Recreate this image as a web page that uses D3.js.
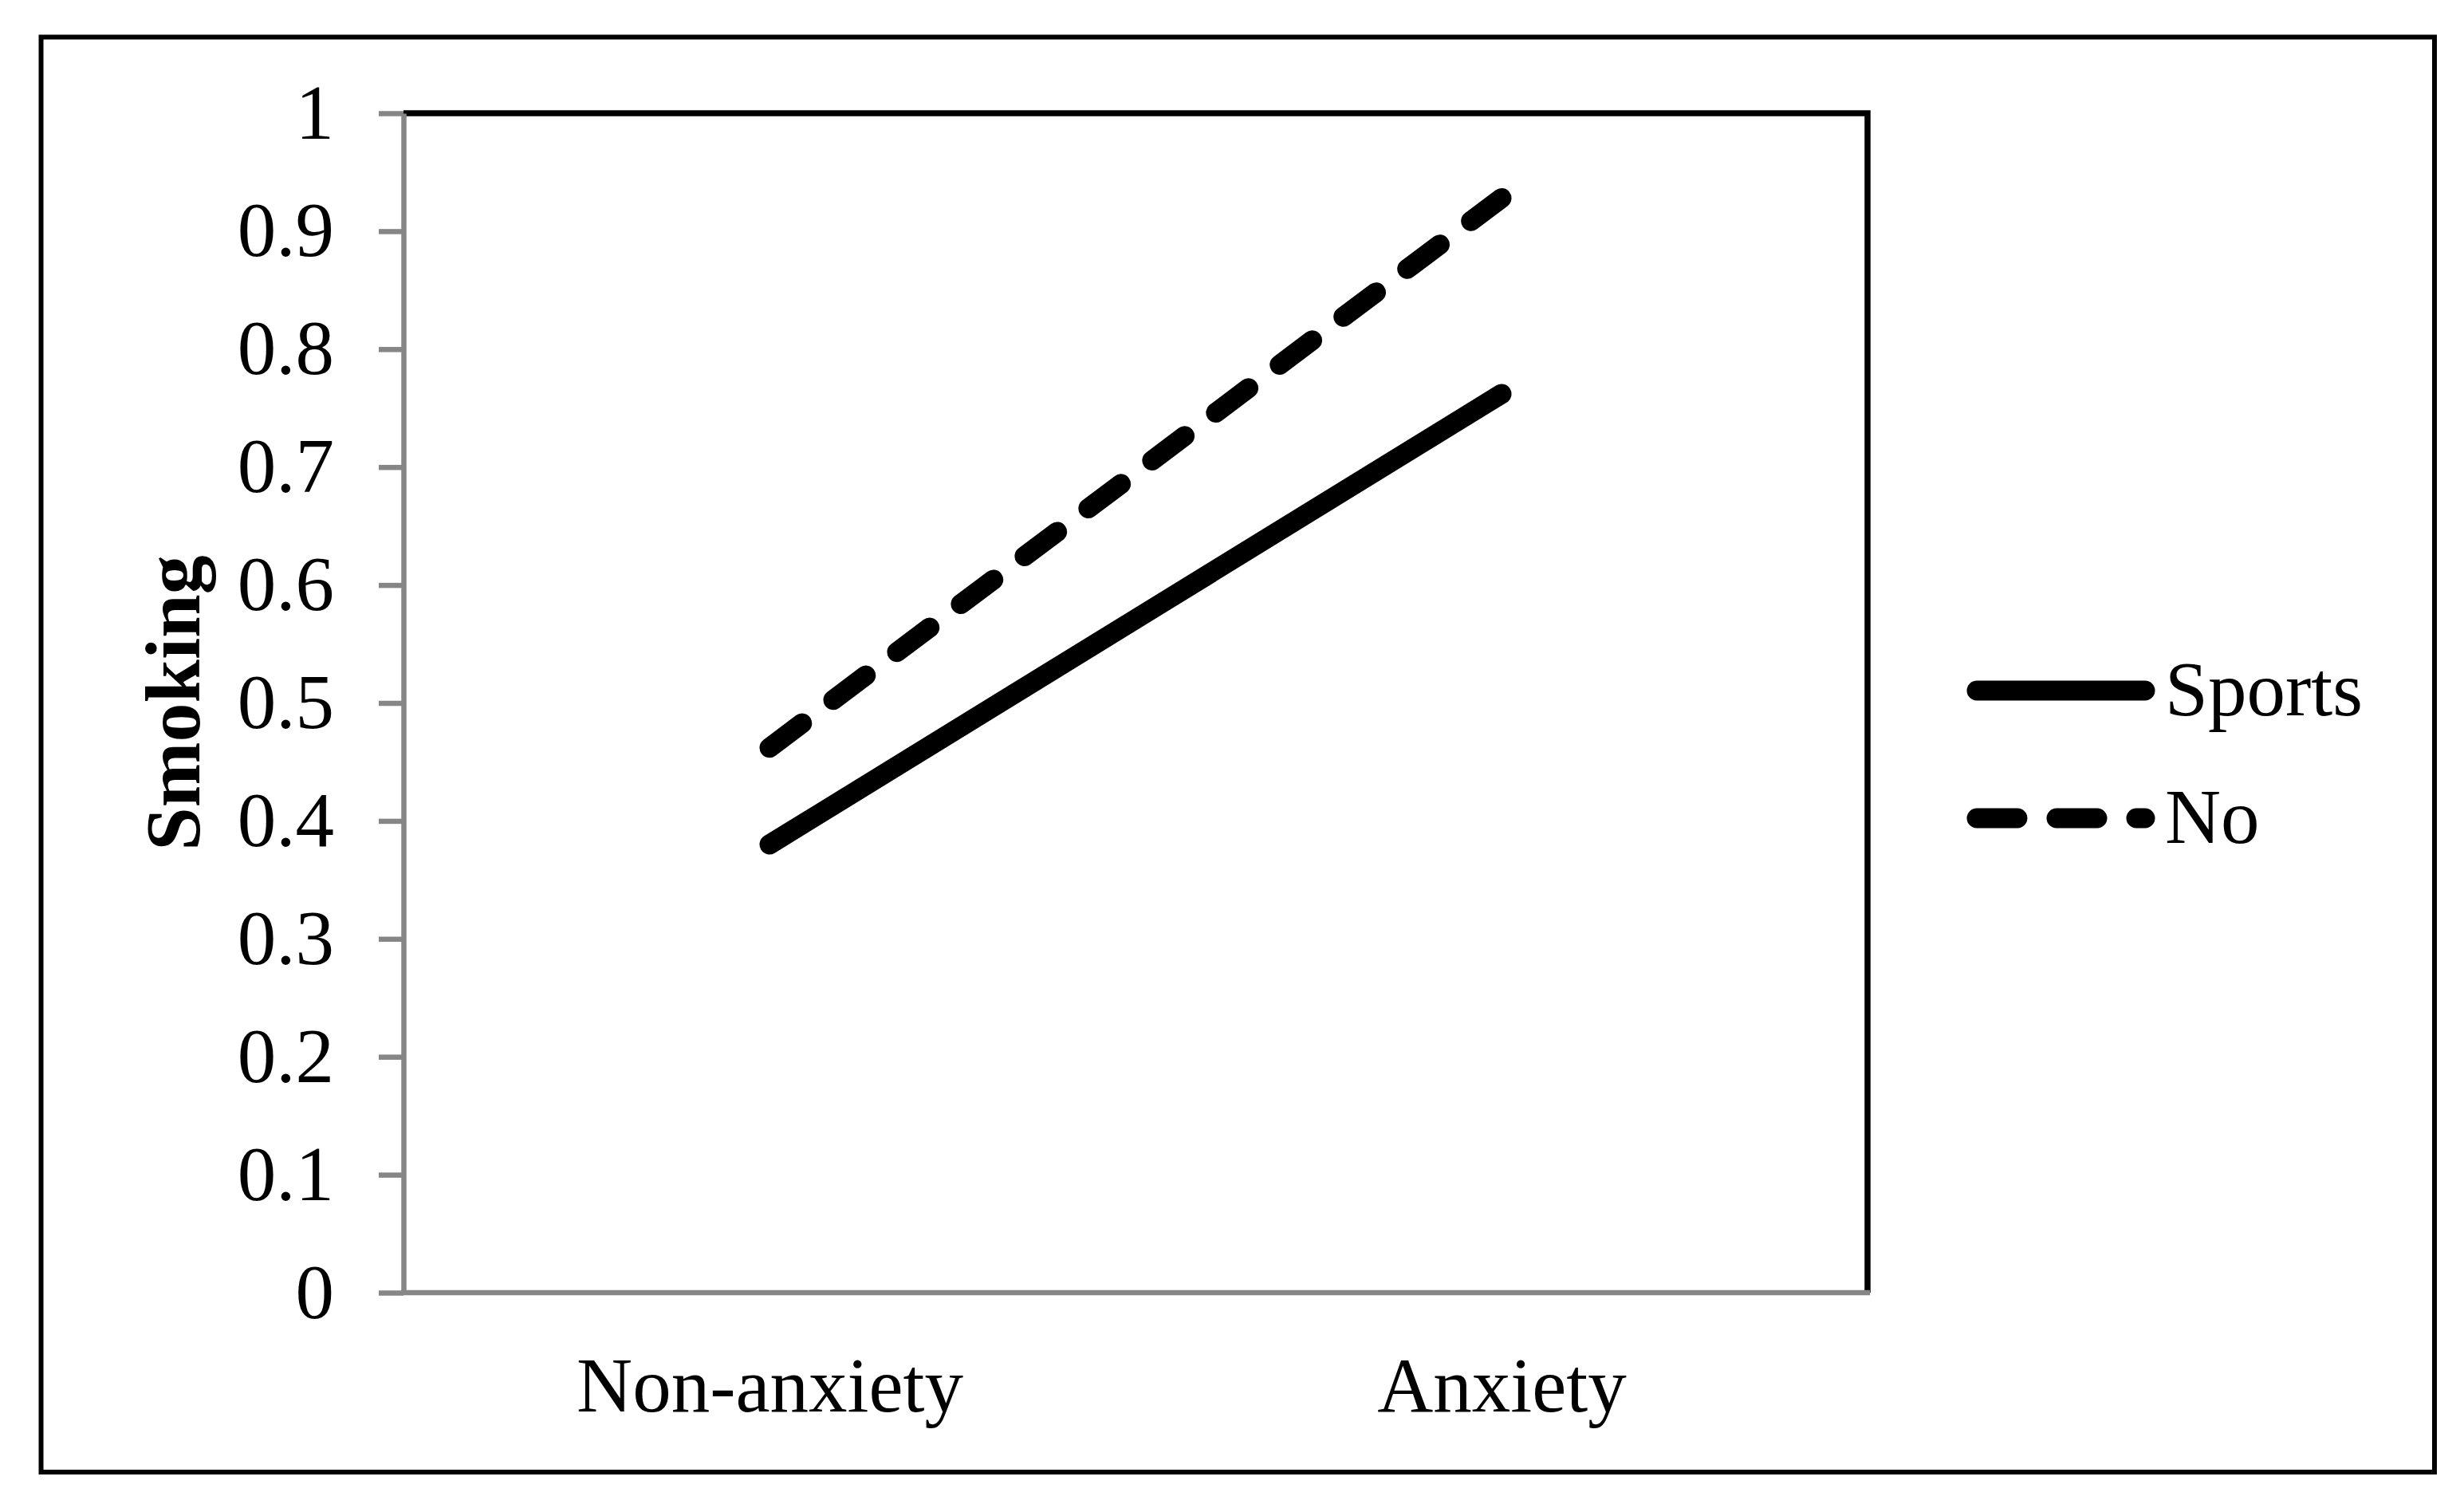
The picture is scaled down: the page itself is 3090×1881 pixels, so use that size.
<!DOCTYPE html>
<html>
<head>
<meta charset="utf-8">
<script src="https://cdn.jsdelivr.net/npm/d3@7"></script>
<style>
  html, body { margin: 0; padding: 0; background: #fff; }
  svg { display: block; }
  text { font-family: "Liberation Serif", "Times New Roman", serif; fill: #000; }
</style>
</head>
<body>
<script>
// ---- data ----
const categories = ["Non-anxiety", "Anxiety"];
const sportsValues = [0.38, 0.762];
const noValues = [0.462, 0.928];
const seriesNames = ["Sports", "No"];
const yTicks = [0, 0.1, 0.2, 0.3, 0.4, 0.5, 0.6, 0.7, 0.8, 0.9, 1];
const yTickLabels = ["0", "0.1", "0.2", "0.3", "0.4", "0.5", "0.6", "0.7", "0.8", "0.9", "1"];
const yTitle = "Smoking";

// ---- layout ----
const W = 3090, H = 1881;
const plot = { left: 506, right: 2342, top: 142, bottom: 1621 };
const fontSize = 97;
const grey = "#868686";
const lineW = 25;

const svg = d3.select("body").append("svg")
  .attr("width", W).attr("height", H)
  .attr("viewBox", `0 0 ${W} ${H}`);

svg.append("rect").attr("width", W).attr("height", H).attr("fill", "#fff");

// outer chart border
svg.append("rect")
  .attr("x", 51.5).attr("y", 46.5)
  .attr("width", 3053 - 51.5).attr("height", 1846 - 46.5)
  .attr("fill", "none").attr("stroke", "#000").attr("stroke-width", 6);

const x = d3.scalePoint().domain(categories).range([plot.left, plot.right]).padding(0.5);
const y = d3.scaleLinear().domain([0, 1]).range([plot.bottom, plot.top]);

// plot area top/right border (black)
svg.append("path")
  .attr("d", `M${plot.left},${plot.top}H${plot.right}V${plot.bottom}`)
  .attr("fill", "none").attr("stroke", "#000").attr("stroke-width", 7.5)
  .attr("stroke-linejoin", "miter");

// y axis
const yAxis = d3.axisLeft(y)
  .tickValues(yTicks)
  .tickFormat((d, i) => yTickLabels[i])
  .tickSize(31).tickSizeOuter(0).tickPadding(56);
const gy = svg.append("g").attr("transform", `translate(${plot.left},0)`).call(yAxis);
gy.select(".domain").attr("stroke", grey).attr("stroke-width", 6.5);
gy.selectAll(".tick line").attr("stroke", grey).attr("stroke-width", 6.5);
gy.selectAll(".tick text")
  .style("font-family", '"Liberation Serif", "Times New Roman", serif')
  .style("font-size", fontSize + "px").attr("fill", "#000");

// x axis
const xAxis = d3.axisBottom(x).tickSize(0).tickSizeOuter(0);
const gx = svg.append("g").attr("transform", `translate(0,${plot.bottom})`).call(xAxis);
gx.select(".domain").attr("stroke", grey).attr("stroke-width", 6.5)
  .attr("d", `M${plot.left - 3},0H${plot.right + 3}`);
gx.selectAll(".tick text")
  .attr("y", 149).attr("dy", "0")
  .style("font-family", '"Liberation Serif", "Times New Roman", serif')
  .style("font-size", fontSize + "px").attr("fill", "#000");

// y title
svg.append("text")
  .attr("transform", `translate(250,${(plot.top + plot.bottom) / 2}) rotate(-90)`)
  .attr("text-anchor", "middle")
  .style("font-size", "98px").style("font-weight", "bold")
  .text(yTitle);

// series lines
const series = [
  { name: seriesNames[0], values: sportsValues, dash: null },
  { name: seriesNames[1], values: noValues, dash: "51,49" }
];
const line = d3.line().x((d, i) => x(categories[i])).y(d => y(d));
svg.selectAll("path.series").data(series).enter().append("path")
  .attr("class", "series")
  .attr("d", d => line(d.values))
  .attr("fill", "none").attr("stroke", "#000").attr("stroke-width", lineW)
  .attr("stroke-linecap", "round").attr("stroke-linejoin", "round")
  .attr("stroke-dasharray", d => d.dash);

// legend
const legX0 = 2479, legX1 = 2690, legTextX = 2715;
const legY = [866, 1026];
const leg = svg.selectAll("g.leg").data(series).enter().append("g").attr("class", "leg")
  .attr("transform", (d, i) => `translate(0,${legY[i]})`);
leg.append("line")
  .attr("x1", legX0).attr("x2", legX1).attr("y1", 0).attr("y2", 0)
  .attr("stroke", "#000").attr("stroke-width", lineW)
  .attr("stroke-linecap", "round")
  .attr("stroke-dasharray", d => d.dash);
leg.append("text")
  .attr("x", legTextX).attr("y", 31)
  .style("font-size", fontSize + "px")
  .text(d => d.name);
</script>
</body>
</html>
